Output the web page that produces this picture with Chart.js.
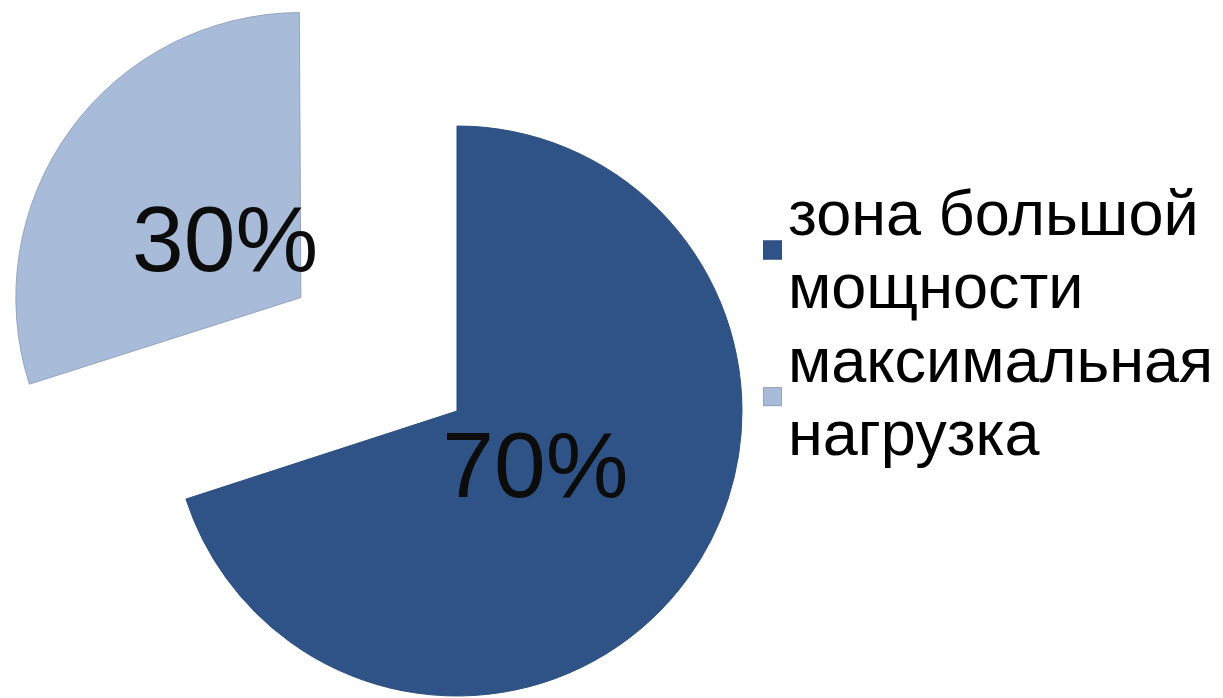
<!DOCTYPE html>
<html>
<head>
<meta charset="utf-8">
<script src="https://cdn.jsdelivr.net/npm/chart.js@4.4.1/dist/chart.umd.min.js"></script>
<style>
  html, body { margin: 0; padding: 0; background: #ffffff; overflow: hidden; }
  #wrap { position: relative; width: 1223px; height: 698px; }
</style>
</head>
<body>
<div id="wrap"><canvas id="c" width="1223" height="698"></canvas></div>
<script>
// Categories and their shares (%)
const categories = ['зона большой мощности', 'максимальная нагрузка'];
const shares = [70, 30];

// Slice palette
const sliceColors = ['#2F5386', '#A8BCD9'];
const sliceBorders = ['#2D4F80', '#93A4BF'];

const FONT = '"Liberation Sans", Arial, sans-serif';

// Keeps the pulled-out slice at the same radius as the rest of the pie
const explodeFix = {
  id: 'explodeFix',
  afterDatasetUpdate(chart, args) {
    const meta = chart.getDatasetMeta(args.index);
    meta.data.forEach(arc => {
      const off = ((arc.options && arc.options.offset) || 0) / 4;
      const fix = 1 - Math.sin(Math.min(Math.PI, arc.circumference || 0));
      arc.outerRadius -= off * fix;
    });
  }
};

// Percentage labels inside each slice
const sliceLabels = {
  id: 'sliceLabels',
  afterDatasetsDraw(chart) {
    const meta = chart.getDatasetMeta(0);
    const ctx = chart.ctx;
    ctx.save();
    ctx.font = '93px ' + FONT;
    ctx.fillStyle = '#0c0c0c';
    ctx.textAlign = 'center';
    ctx.textBaseline = 'middle';
    meta.data.forEach((arc, i) => {
      const mid = (arc.startAngle + arc.endAngle) / 2;
      const shift = ((arc.options && arc.options.offset) || 0) / 4;
      const r = arc.outerRadius * 0.34 + shift;
      ctx.fillText(shares[i] + '%', arc.x + Math.cos(mid) * r, arc.y + Math.sin(mid) * r + 3);
    });
    ctx.restore();
  }
};

// Legend on the right with wrapped category names
const sideLegend = {
  id: 'sideLegend',
  afterDraw(chart) {
    const ctx = chart.ctx;
    const boxX = 763, textX = 788, box = 19;
    const lineH = 73.3, maxW = 440;
    let baseline = 235;
    ctx.save();
    ctx.font = '63px ' + FONT;
    ctx.textBaseline = 'alphabetic';
    ctx.textAlign = 'left';
    categories.forEach((name, i) => {
      const words = name.split(' ');
      const lines = [];
      let cur = '';
      words.forEach(w => {
        const test = cur ? cur + ' ' + w : w;
        if (cur && ctx.measureText(test).width > maxW) { lines.push(cur); cur = w; }
        else cur = test;
      });
      if (cur) lines.push(cur);
      ctx.fillStyle = sliceColors[i];
      ctx.fillRect(boxX, baseline + 15 - box / 2, box, box);
      ctx.strokeStyle = sliceBorders[i];
      ctx.lineWidth = 1;
      ctx.strokeRect(boxX + 0.5, baseline + 15 - box / 2 + 0.5, box - 1, box - 1);
      ctx.fillStyle = '#000000';
      lines.forEach(l => { ctx.fillText(l, textX, baseline); baseline += lineH; });
    });
    ctx.restore();
  }
};

new Chart(document.getElementById('c'), {
  type: 'pie',
  data: {
    labels: categories,
    datasets: [{
      data: shares,
      backgroundColor: sliceColors,
      borderColor: sliceBorders,
      borderWidth: 1,
      offset: [0, 772]
    }]
  },
  options: {
    responsive: false,
    animation: false,
    events: [],
    radius: 285,
    cutout: '0%',
    layout: { padding: { left: 0, right: 309, top: 124, bottom: 0 } },
    plugins: { legend: { display: false }, tooltip: { enabled: false } }
  },
  plugins: [explodeFix, sliceLabels, sideLegend]
});
</script>
</body>
</html>
